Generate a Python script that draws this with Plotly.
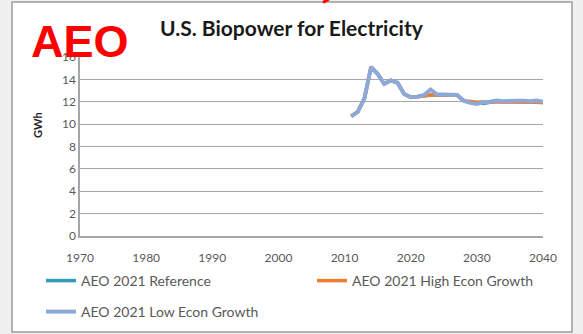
import plotly.graph_objects as go

years = list(range(2011, 2041))
low_growth = [10.7, 11.1, 12.3, 15.1, 14.5, 13.6, 13.9, 13.7, 12.7, 12.4,
              12.45, 12.6, 13.1, 12.65, 12.65, 12.6, 12.6, 12.1, 11.9, 11.8,
              11.95, 12.0, 12.1, 12.05, 12.1, 12.1, 12.1, 12.05, 12.1, 12.0]
high_growth = [10.7, 11.1, 12.3, 15.1, 14.5, 13.6, 13.9, 13.7, 12.7, 12.4,
               12.45, 12.55, 12.6, 12.6, 12.6, 12.6, 12.6, 12.1, 12.0, 11.95,
               12.0, 11.95, 12.0, 12.0, 11.95, 12.0, 11.95, 11.95, 11.95, 11.9]
reference = [10.7, 11.1, 12.3, 15.1, 14.5, 13.6, 13.9, 13.7, 12.7, 12.4,
             12.45, 12.55, 12.6, 12.6, 12.6, 12.6, 12.6, 12.1, 11.95, 11.9,
             11.85, 11.95, 12.05, 12.0, 12.05, 12.05, 12.0, 12.0, 12.0, 11.95]

x_ticks = [1970, 1980, 1990, 2000, 2010, 2020, 2030, 2040]
y_ticks = [0, 2, 4, 6, 8, 10, 12, 14, 16]

FONT = "Lato"
GRAY = "#595959"

fig = go.Figure()
fig.add_trace(go.Scatter(x=years, y=reference, mode="lines", name="AEO 2021 Reference",
                         line=dict(color="#2E9CB8", width=3.5), legend="legend"))
fig.add_trace(go.Scatter(x=years, y=high_growth, mode="lines", name="AEO 2021 High Econ Growth",
                         line=dict(color="#ED7D31", width=3.5), legend="legend2"))
fig.add_trace(go.Scatter(x=years, y=low_growth, mode="lines", name="AEO 2021 Low Econ Growth",
                         line=dict(color="#8EA9D8", width=4), legend="legend3"))

W, H = 583, 334
L, R, T, B = 80, 40, 57, 98
pw, ph = W - L - R, H - T - B

def px(xp):
    return (xp - L) / pw

def py(yp):
    return (H - B - yp) / ph

leg_common = dict(orientation="h", xanchor="left", yanchor="middle", itemwidth=30,
                  bgcolor="rgba(0,0,0,0)", font=dict(family=FONT, size=14, color=GRAY))

fig.update_layout(
    width=W, height=H,
    margin=dict(l=L, r=R, t=T, b=B, autoexpand=False),
    paper_bgcolor="#F0F0F0",
    plot_bgcolor="white",
    showlegend=True,
    font=dict(family=FONT, color=GRAY, size=12),
    xaxis=dict(range=[1970, 2040], tickvals=x_ticks, showgrid=False, zeroline=False,
               showline=True, linecolor="#A6A6A6", linewidth=1.5,
               tickfont=dict(family=FONT, size=12, color=GRAY), ticks="outside",
               ticklen=10, tickcolor="rgba(0,0,0,0)"),
    yaxis=dict(range=[0, 16], tickvals=y_ticks, showgrid=True, gridcolor="#A6A6A6",
               gridwidth=1.2, zeroline=False, showline=True, linecolor="#A6A6A6",
               linewidth=1.5, tickfont=dict(family=FONT, size=12, color=GRAY)),
    legend=dict(x=px(41), y=py(281), **leg_common),
    legend2=dict(x=px(312), y=py(281), **leg_common),
    legend3=dict(x=px(41), y=py(312), **leg_common),
    shapes=[
        dict(type="rect", xref="paper", yref="paper", x0=px(12), x1=px(572),
             y0=py(332), y1=py(2), fillcolor="white",
             line=dict(color="#9A9A9A", width=1.5), layer="below"),
        dict(type="line", xref="paper", yref="paper", x0=px(323), x1=px(329),
             y0=py(2.5), y1=py(-1), line=dict(color="#FF0000", width=3)),
    ],
    annotations=[
        dict(text="<b>U.S. Biopower for Electricity</b>", xref="paper", yref="paper",
             x=px(292), y=py(27), xanchor="center", yanchor="middle", showarrow=False,
             font=dict(family=FONT, size=21, color="#1a1a1a")),
        dict(text="<b>GWh</b>", xref="paper", yref="paper", textangle=-90,
             x=px(37), y=py(125), xanchor="center", yanchor="middle", showarrow=False,
             font=dict(family=FONT, size=11, color="#262626")),
        dict(text="<b>AEO</b>", xref="paper", yref="paper",
             x=px(29), y=py(41), xanchor="left", yanchor="middle", showarrow=False,
             font=dict(family="Liberation Sans", size=45, color="#FF0000")),
    ],
)

fig.write_html("out.html")
